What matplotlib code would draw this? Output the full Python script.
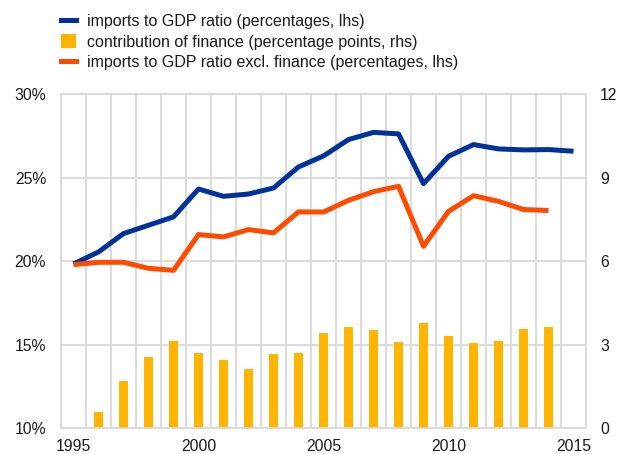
import numpy as np
import matplotlib
matplotlib.use("Agg")
import matplotlib.pyplot as plt
from matplotlib.lines import Line2D
from matplotlib.patches import Patch
from matplotlib.ticker import FuncFormatter, FixedLocator

years = list(range(1995, 2016))

imports_ratio = [19.84, 20.56, 21.66, 22.16, 22.66, 24.33, 23.89, 24.03, 24.39,
                 25.65, 26.31, 27.29, 27.72, 27.63, 24.65, 26.29, 26.99, 26.73,
                 26.67, 26.69, 26.59]

imports_excl_finance = [19.80, 19.94, 19.94, 19.58, 19.46, 21.60, 21.46, 21.90,
                        21.70, 22.96, 22.95, 23.65, 24.17, 24.49, 20.90, 22.99,
                        23.93, 23.59, 23.10, 23.04]

finance_years = list(range(1996, 2015))
finance_contribution = [0.59, 1.69, 2.56, 3.14, 2.72, 2.45, 2.13, 2.68, 2.72,
                        3.44, 3.64, 3.53, 3.10, 3.78, 3.32, 3.08, 3.15, 3.56, 3.64]

xtick_years = [1995, 2000, 2005, 2010, 2015]

BLUE = "#003299"
YELLOW = "#FFB400"
RED = "#FF4B00"
GRID = "#d9d9d9"
TEXT = "#1a1a1a"
TICK_SIZE = 11.3
LEGEND_SIZE = 11.5

plt.rcParams["font.family"] = ["Liberation Sans", "DejaVu Sans"]
plt.rcParams["font.size"] = 11

fig = plt.figure(figsize=(6.19, 4.54), dpi=100)
x0, x1 = 61 / 619, 586 / 619
y0, y1 = 1 - 428.3 / 454, 1 - 94.3 / 454
ax = fig.add_axes([x0, y0, x1 - x0, y1 - y0])

pos = {y: i for i, y in enumerate(years)}

# bars: right-hand scale
ax.bar([pos[y] for y in finance_years], finance_contribution, width=0.38,
       color=YELLOW, zorder=2)
ax.set_ylim(0, 12)
ax.set_xlim(-0.5, len(years) - 0.5)
ax.set_yticks([0, 3, 6, 9, 12])
ax.set_xticks([pos[y] for y in xtick_years])
ax.set_xticklabels([str(y) for y in xtick_years])
ax.xaxis.set_minor_locator(FixedLocator(np.arange(-0.5, len(years), 1.0)))
ax.grid(True, which="minor", axis="x", color=GRID, lw=1.3, zorder=0)
ax.grid(True, which="major", axis="y", color=GRID, lw=1.3, zorder=0)
ax.set_axisbelow(True)
for s in ax.spines.values():
    s.set_color(GRID)
    s.set_linewidth(1.3)

# lines: left-hand scale
ax2 = ax.twinx()
ax2.plot([pos[y] for y in years], imports_ratio, color=BLUE, lw=3.6,
         solid_joinstyle="round", solid_capstyle="butt")
ax2.plot([pos[y] for y in years[:len(imports_excl_finance)]],
         imports_excl_finance, color=RED, lw=3.6,
         solid_joinstyle="round", solid_capstyle="butt")
ax2.set_ylim(10, 30)
ax2.set_yticks([10, 15, 20, 25, 30])
ax2.yaxis.set_major_formatter(FuncFormatter(lambda v, _: f"{v:.0f}%"))
for s in ax2.spines.values():
    s.set_visible(False)

# percentage scale on the left, points scale on the right
ax.yaxis.tick_right()
ax.yaxis.set_label_position("right")
ax2.yaxis.tick_left()
ax2.yaxis.set_label_position("left")
ax.tick_params(axis="both", which="both", length=0, colors=TEXT,
               labelsize=TICK_SIZE)
ax.tick_params(axis="y", pad=10)
ax.tick_params(axis="x", pad=7.5)
ax2.tick_params(axis="y", length=0, colors=TEXT, labelsize=TICK_SIZE, pad=10.8)

handles = [
    Line2D([0], [0], color=BLUE, lw=3.6),
    Patch(facecolor=YELLOW, edgecolor="none"),
    Line2D([0], [0], color=RED, lw=3.6),
]
labels = [
    "imports to GDP ratio (percentages, lhs)",
    "contribution of finance (percentage points, rhs)",
    "imports to GDP ratio excl. finance (percentages, lhs)",
]
leg = fig.legend(handles, labels, loc="upper left",
                 bbox_to_anchor=(60.5 / 619, 1 - 13.5 / 454),
                 frameon=False, handlelength=0.95, handleheight=0.9,
                 handletextpad=0.7, labelspacing=0.36, borderpad=0,
                 borderaxespad=0, fontsize=LEGEND_SIZE)
for t in leg.get_texts():
    t.set_color(TEXT)

fig.savefig("out.png", dpi=100)
